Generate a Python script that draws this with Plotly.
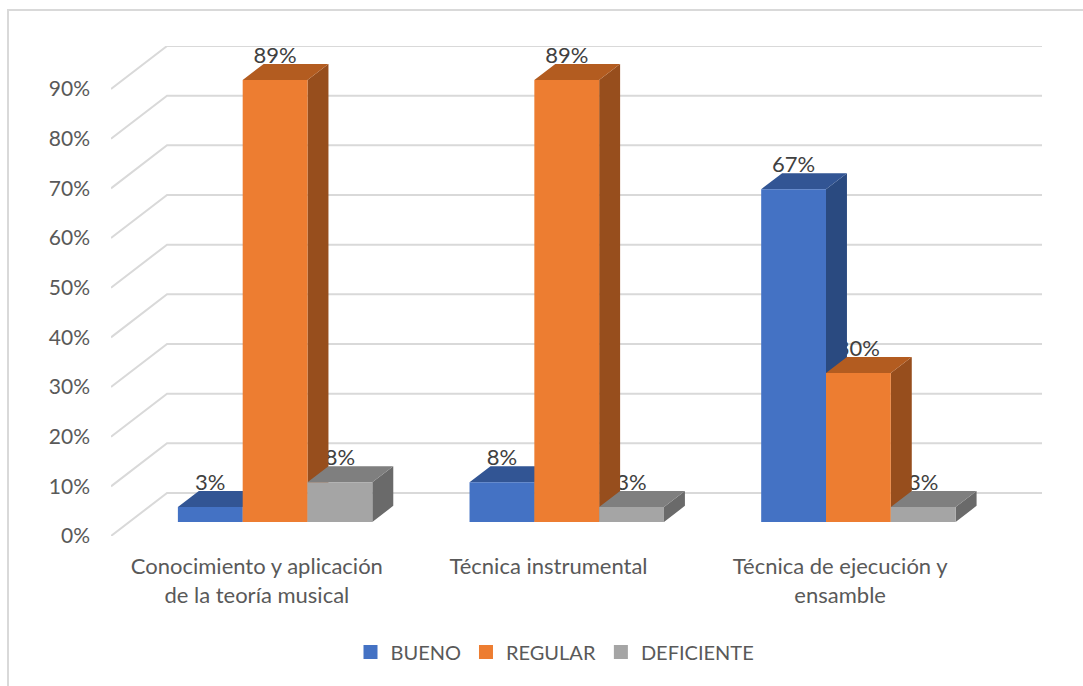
import plotly.graph_objects as go

categories = ["Conocimiento y aplicación<br>de la teoría musical", "Técnica instrumental", "Técnica de ejecución y<br>ensamble"]
bueno = [3, 8, 67]
regular = [89, 89, 30]
deficiente = [8, 3, 3]
series_names = ["BUENO", "REGULAR", "DEFICIENTE"]
y_ticks = [0, 10, 20, 30, 40, 50, 60, 70, 80, 90]

front_colors = ["#4472C4", "#ED7D31", "#A5A5A5"]
top_colors = ["#325594", "#B35C20", "#7F7F7F"]
side_colors = ["#2A4A80", "#974E1D", "#6A6A6A"]
GRID = "#D9D9D9"
TICK_TEXT = "#595959"
LABEL_TEXT = "#404040"
FONT = "Lato"

# Oblique projection of the floor depth, in axis units
DX = 56 / 291.5      # category units for full depth
DY = 43 / 4.96       # percent units for full depth
D0, D1 = 0.326, 0.70 # depth of the bars' front and back faces
BAR_W = 1 / 4.5      # gap width 150 %
LABEL_LIFT = 22.5 / 4.96  # label centre above the bar's front top, in percent units
Y_MAX = 90

xs = list(range(len(categories)))
fig = go.Figure()

# Walls: gridlines on the left wall and the back wall
gx, gy = [], []
for v in y_ticks:
    gx += [-0.5, -0.5 + DX, 2.5 + DX, None]
    gy += [v, v + DY, v + DY, None]
fig.add_trace(go.Scatter(x=gx, y=gy, mode="lines", line=dict(color=GRID, width=2),
                         showlegend=False, hoverinfo="skip", cliponaxis=False))

all_series = [bueno, regular, deficiente]

# Data labels sit behind the bars
for s, vals in enumerate(all_series):
    cx = [x + (s - 1) * BAR_W + D0 * DX for x in xs]
    fig.add_trace(go.Scatter(
        x=cx, y=[v + D0 * DY + LABEL_LIFT for v in vals], mode="text",
        text=[f"{v}%" for v in vals], textposition="middle center",
        textfont=dict(family=FONT, size=22, color=LABEL_TEXT),
        showlegend=False, hoverinfo="skip", cliponaxis=False))

def poly(points, store_x, store_y):
    for px, py in points + [points[0]]:
        store_x.append(px)
        store_y.append(py)
    store_x.append(None)
    store_y.append(None)

# Bars, painted left to right: side, top, front
for s, vals in enumerate(all_series):
    sx, sy, tx, ty, fx, fy = [], [], [], [], [], []
    for x, v in zip(xs, vals):
        l = x + (s - 1.5) * BAR_W
        r = l + BAR_W
        ax0, ay0 = D0 * DX, D0 * DY
        ax1, ay1 = D1 * DX, D1 * DY
        poly([(r + ax0, ay0), (r + ax1, ay1), (r + ax1, v + ay1), (r + ax0, v + ay0)], sx, sy)
        poly([(l + ax0, v + ay0), (r + ax0, v + ay0), (r + ax1, v + ay1), (l + ax1, v + ay1)], tx, ty)
        poly([(l + ax0, ay0), (r + ax0, ay0), (r + ax0, v + ay0), (l + ax0, v + ay0)], fx, fy)
    for px, py, col in [(sx, sy, side_colors[s]), (tx, ty, top_colors[s]), (fx, fy, front_colors[s])]:
        fig.add_trace(go.Scatter(x=px, y=py, mode="lines", fill="toself", fillcolor=col,
                                 line=dict(width=0, color=col), showlegend=False,
                                 hoverinfo="skip", cliponaxis=False))

# Legend keys
for s, name in enumerate(series_names):
    fig.add_trace(go.Scatter(x=[None], y=[None], mode="markers", name=name,
                             marker=dict(symbol="square", size=14, color=front_colors[s])))

# plot-area pixel box, used only for placing the outer frame
L, R, T, B = 111, 41, 46, 150
W, H = 1083, 686
pw, ph = W - L - R, H - T - B
fig.update_layout(
    width=W, height=H,
    margin=dict(l=L, r=R, t=T, b=B, pad=0),
    paper_bgcolor="white", plot_bgcolor="white",
    font=dict(family=FONT, color=TICK_TEXT, size=20),
    xaxis=dict(range=[-0.5, 2.5 + DX], tickmode="array", tickvals=xs, ticktext=categories,
               showgrid=False, zeroline=False, showline=False, ticks="",
               tickangle=0, ticklabelstandoff=15, tickfont=dict(family=FONT, size=22, color=TICK_TEXT)),
    yaxis=dict(range=[0, Y_MAX + DY], tickmode="array", tickvals=y_ticks,
               ticktext=[f"{v}%" for v in y_ticks],
               showgrid=False, zeroline=False, showline=False, ticks="",
               ticklabelstandoff=20, tickfont=dict(family=FONT, size=21, color=TICK_TEXT)),
    legend=dict(orientation="h", x=(555 - L) / pw, xanchor="center", y=-(652 - (H - B)) / ph, yanchor="middle",
                itemsizing="trace", font=dict(family=FONT, size=20, color=TICK_TEXT),
                bgcolor="rgba(0,0,0,0)", itemclick=False, itemdoubleclick=False),
    shapes=[dict(type="rect", xref="paper", yref="paper", layer="below",
                 x0=(8 - L) / pw, x1=(W + 5 - L) / pw,
                 y0=-(H + 5 - (H - B)) / ph, y1=1 + (T - 10) / ph,
                 line=dict(color=GRID, width=2), fillcolor="rgba(0,0,0,0)")],
)
fig.write_html("out.html", config=dict(displayModeBar=False),
               post_script="document.body.style.margin='0';")
